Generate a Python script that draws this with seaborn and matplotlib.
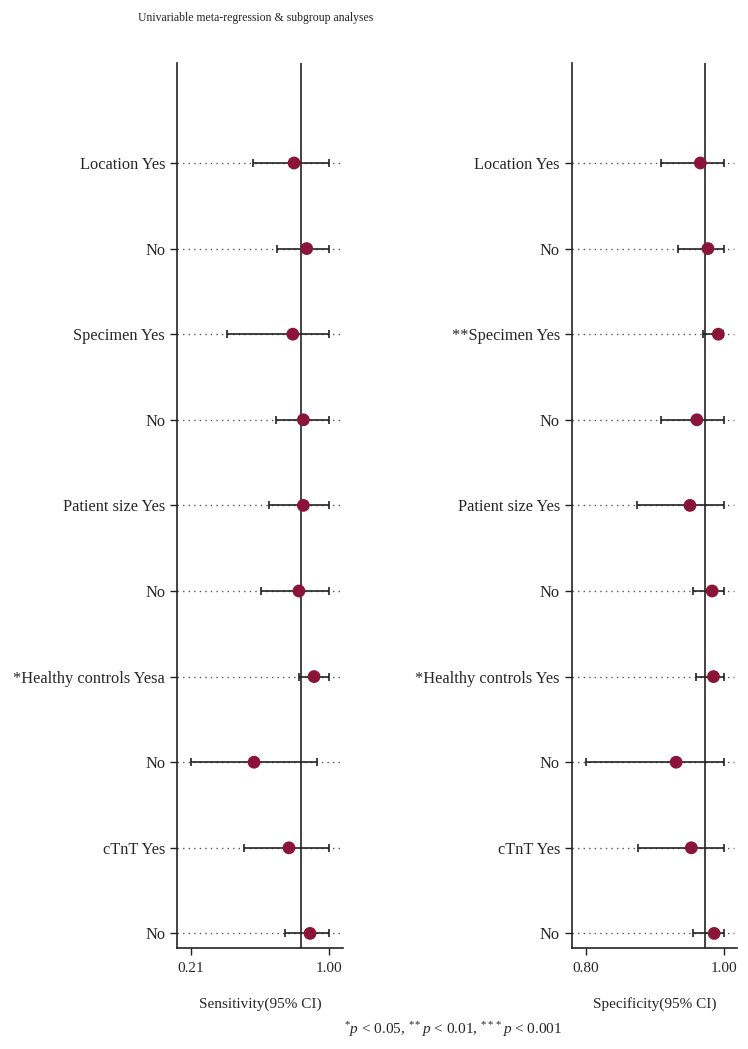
import numpy as np
import pandas as pd
import seaborn as sns
import matplotlib.pyplot as plt

# subgroup rows, top to bottom
left_labels = ["Location Yes", "No", "Specimen Yes", "No", "Patient size Yes", "No",
               "*Healthy controls Yesa", "No", "cTnT Yes", "No"]
right_labels = ["Location Yes", "No", "**Specimen Yes", "No", "Patient size Yes", "No",
                "*Healthy controls Yes", "No", "cTnT Yes", "No"]

sens = [0.799, 0.871, 0.792, 0.852, 0.852, 0.827, 0.913, 0.571, 0.770, 0.890]
sens_lo = [0.563, 0.704, 0.419, 0.698, 0.658, 0.609, 0.829, 0.212, 0.514, 0.748]
sens_hi = [1.00, 1.00, 1.00, 1.00, 1.00, 1.00, 1.00, 0.930, 1.00, 1.00]

spec = [0.966, 0.977, 0.992, 0.961, 0.951, 0.983, 0.985, 0.931, 0.953, 0.986]
spec_lo = [0.909, 0.933, 0.970, 0.909, 0.875, 0.955, 0.959, 0.800, 0.876, 0.956]
spec_hi = [1.00, 1.00, 0.999, 1.00, 1.00, 1.00, 1.00, 1.00, 1.00, 1.00]

sens_pooled = 0.839
spec_pooled = 0.973

df = pd.DataFrame({"row": np.arange(len(sens)),
                   "sens": sens, "sens_lo": sens_lo, "sens_hi": sens_hi,
                   "spec": spec, "spec_lo": spec_lo, "spec_hi": spec_hi})

sns.set_style("ticks")
plt.rcParams["font.family"] = ["Liberation Serif", "DejaVu Serif"]
plt.rcParams["mathtext.fontset"] = "custom"
plt.rcParams["mathtext.rm"] = "Liberation Serif"
plt.rcParams["mathtext.it"] = "Liberation Serif:italic"

W, H = 748, 1049
fig = plt.figure(figsize=(W / 100, H / 100), dpi=100)
bottom = 1 - 947.7 / H
height = (947.7 - 63) / H
ax1 = fig.add_axes([177 / W, bottom, (343 - 177) / W, height])
ax2 = fig.add_axes([571.7 / W, bottom, (737 - 571.7) / W, height])

marker_col = "#8a1538"
line_col = "#222222"


def forest(ax, col, labels, pooled, xlim, ticks, xlabel):
    # dotted guide across the whole panel
    ax.hlines(df["row"], 0, 0.98, transform=ax.get_yaxis_transform(),
              colors="#555555", linestyles=(0, (1, 3)), lw=1, zorder=1)
    ax.errorbar(df[col], df["row"],
                xerr=[df[col] - df[col + "_lo"], df[col + "_hi"] - df[col]],
                fmt="none", ecolor=line_col, elinewidth=1.2, capsize=3,
                capthick=1.2, zorder=2)
    sns.scatterplot(data=df, x=col, y="row", ax=ax, color=marker_col,
                    s=85, edgecolor="none", zorder=3, legend=False)
    ax.axvline(pooled, color="#222222", lw=1.2, zorder=1)
    ax.set_xlim(*xlim)
    ax.set_ylim(9.167, -1.168)
    ax.set_xticks(ticks)
    ax.set_xticklabels([f"{t:.2f}" for t in ticks], fontsize=11)
    ax.set_yticks(df["row"])
    ax.set_yticklabels(labels, fontsize=11.8)
    ax.tick_params(length=5, width=1, color=line_col)
    ax.tick_params(axis="x", pad=5.5)
    ax.set_xlabel(xlabel, fontsize=11, labelpad=16)
    ax.set_ylabel("")
    sns.despine(ax=ax, top=True, right=True)
    for s in ["left", "bottom"]:
        ax.spines[s].set_color("#222222")
        ax.spines[s].set_linewidth(1.2)


forest(ax1, "sens", left_labels, sens_pooled, (0.132, 1.078), [0.21, 1.00],
       "Sensitivity(95% CI)")
forest(ax2, "spec", right_labels, spec_pooled, (0.780, 1.019), [0.80, 1.00],
       "Specificity(95% CI)")

fig.text(255.6 / W, 1 - 18 / H, "Univariable meta-regression & subgroup analyses",
         ha="center", va="center", fontsize=8.5)
fig.text(453 / W, 1 - 1030 / H,
         r"$^{*}\mathit{p}$ < 0.05, $^{**}\mathit{p}$ < 0.01, $^{***}\mathit{p}$ < 0.001",
         ha="center", va="center", fontsize=11)

fig.savefig("out.png", dpi=100)
